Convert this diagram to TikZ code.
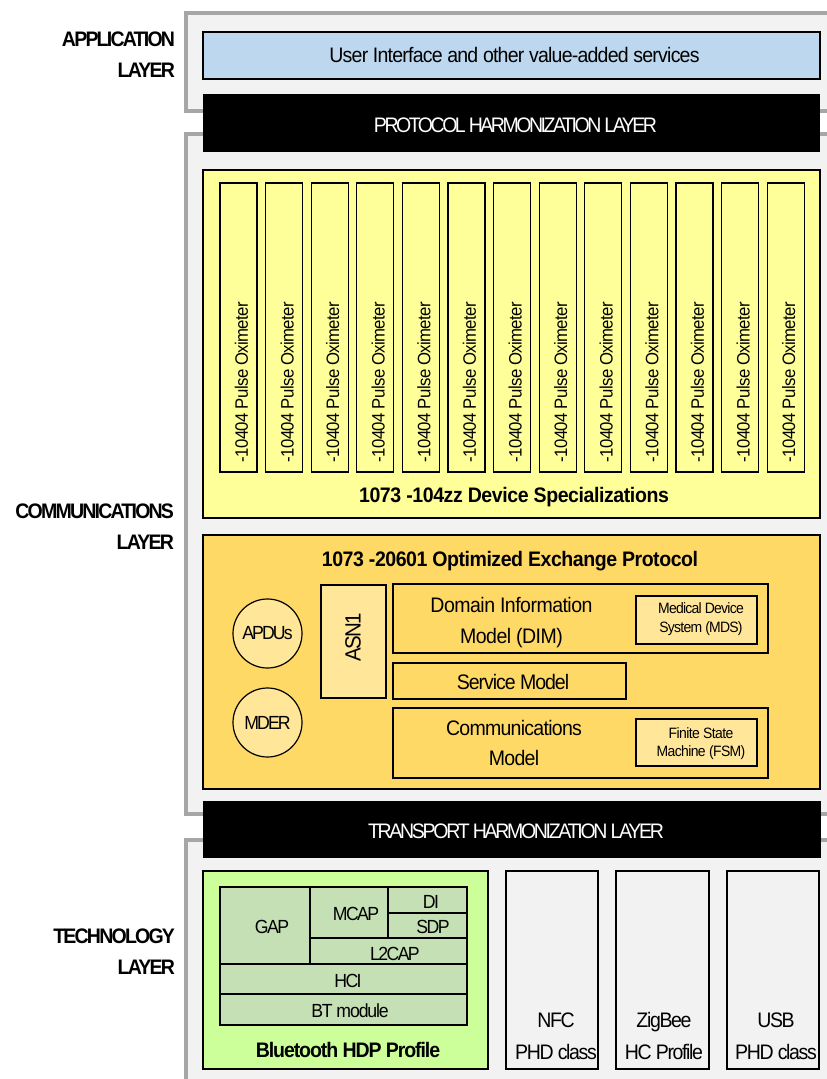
\documentclass[tikz,border=0pt]{standalone}
\usepackage{fontspec}
\setmainfont{Liberation Sans}
\usetikzlibrary{fit}
\newcommand\ft[4]{\fontsize{#1}{#2}\selectfont\addfontfeatures{FakeStretch=0.93,LetterSpace=#4}}
\definecolor{frameC}{HTML}{A6A6A6}
\definecolor{frameF}{HTML}{F2F2F2}
\definecolor{appC}{HTML}{BDD7EE}
\definecolor{devC}{HTML}{FFFF99}
\definecolor{oxpC}{HTML}{FFD966}
\definecolor{oxlC}{HTML}{FFE699}
\definecolor{btC}{HTML}{CCFF99}
\definecolor{btiC}{HTML}{C5E0B4}
\tikzset{
  frame/.style={draw=frameC, line width=3.5pt, fill=frameF, inner sep=0pt, outer sep=0pt},
  box/.style={draw=black, line width=1.2pt, inner sep=0pt, outer sep=0pt},
  bar/.style={fill=black, inner sep=0pt, outer sep=0pt},
  txt/.style={inner sep=0pt, outer sep=0pt},
  laylbl/.style={txt, align=right, anchor=east, font=\bfseries\ft{21}{31}{x}{-8.5}},
  btcell/.style={box, fill=btiC},
  btlbl/.style={txt, anchor=base, font=\ft{19}{23}{x}{-8.5}},
  phd/.style={box, fill=frameF},
  phdlbl/.style={txt, align=center, font=\ft{21}{32}{x}{-6.5}},
}
\begin{document}
\begin{tikzpicture}[x=1pt,y=-1pt]
\useasboundingbox (0,0) rectangle (827,1079);
\clip (0,0) rectangle (827,1079);

% layer frames
\node[frame, fit={(186,13) (900,111)}] (appF) {};
\node[frame, fit={(186,134) (900,814)}] (comF) {};
\node[frame, fit={(186,840) (900,1120)}] (tecF) {};

% layer labels
\node[laylbl] (appL) at (175,55) {APPLICATION\\LAYER};
\node[laylbl] (comL) at (174,526.5) {COMMUNICATIONS\\LAYER};
\node[laylbl] (tecL) at (175,951.5) {TECHNOLOGY\\LAYER};

% application
\node[box, fill=appC, fit={(203,32) (820,79)}] (uiB) {};
\node[txt, anchor=base, font=\ft{21}{25}{x}{-3.7}] (uiT) at (514.5,62) {User Interface and other value-added services};

% protocol harmonization
\node[bar, fit={(203,94) (820,152)}] (phB) {};
\node[txt, anchor=base, text=white, font=\ft{21}{25}{x}{-11.8}] (phT) at (515.5,132) {PROTOCOL HARMONIZATION LAYER};

% device specializations
\node[box, fill=devC, fit={(203,170) (820,518)}] (devB) {};
\foreach \i in {0,...,12} {
  \pgfmathsetmacro\xa{220+45.6*\i}
  \pgfmathsetmacro\xb{\xa+37}
  \node[box, fill=devC, fit={(\xa,183) (\xb,472)}] (s\i) {};
  \node[txt, rotate=90, anchor=west, font=\ft{18}{22}{x}{-3.5}] (st\i) at (\xa+21.5,462) {-10404 Pulse Oximeter};
}
\node[txt, anchor=base, font=\bfseries\ft{21}{25}{x}{-2}] (devT) at (514,502) {1073 -104zz Device Specializations};

% optimized exchange protocol
\node[box, fill=oxpC, fit={(203,535) (820,789)}] (oxpB) {};
\node[txt, anchor=base, font=\bfseries\ft{21}{25}{x}{-2.2}] (oxpT) at (510,566) {1073 -20601 Optimized Exchange Protocol};
\node[box, circle, fill=oxlC, minimum size=69pt, font=\ft{19}{23}{x}{-10}] (apdu) at (267.5,633.5) {APDUs};
\node[box, circle, fill=oxlC, minimum size=69pt, font=\ft{19}{23}{x}{-10}] (mder) at (267.5,722.5) {MDER};
\node[box, fill=oxlC, fit={(321,585) (386,698)}] (asnB) {};
\node[txt, rotate=90, font=\ft{22}{26}{x}{-7.3}] (asnT) at (353,637) {ASN1};
\node[box, fill=oxpC, fit={(393,584) (768,653)}] (dimB) {};
\node[txt, align=center, font=\ft{21}{31}{x}{-2.5}] (dimT) at (511.5,622.5) {Domain Information\\Model (DIM)};
\node[box, fill=oxlC, fit={(636,596) (757,644)}] (mdsB) {};
\node[txt, align=center, font=\ft{15}{19}{x}{-5}] (mdsT) at (701,619.5) {Medical Device\\System (MDS)};
\node[box, fill=oxpC, fit={(393,663) (626,699)}] (svcB) {};
\node[txt, anchor=base, font=\ft{21}{25}{x}{-5}] (svcT) at (513,689) {Service Model};
\node[box, fill=oxpC, fit={(393,708) (768,778)}] (cmB) {};
\node[txt, align=center, font=\ft{21}{30}{x}{-3.5}] (cmT) at (514,742.5) {Communications\\Model};
\node[box, fill=oxlC, fit={(636,719) (757,766)}] (fsmB) {};
\node[txt, align=center, font=\ft{15}{18}{x}{-4}] (fsmT) at (701,743.5) {Finite State\\Machine (FSM)};

% transport harmonization
\node[bar, fit={(203,801) (821,858)}] (thB) {};
\node[txt, anchor=base, text=white, font=\ft{21}{25}{x}{-11}] (thT) at (516,838) {TRANSPORT HARMONIZATION LAYER};

% bluetooth
\node[box, fill=btC, fit={(203,871) (488,1069)}] (btB) {};
\node[btcell, fit={(220,887) (310,964)}] (gapB) {};
\node[btcell, fit={(310,887) (388,938)}] (mcapB) {};
\node[btcell, fit={(388,887) (467,913)}] (diB) {};
\node[btcell, fit={(388,913) (467,938)}] (sdpB) {};
\node[btcell, fit={(310,938) (467,964)}] (l2capB) {};
\node[btcell, fit={(220,964) (467,994)}] (hciB) {};
\node[btcell, fit={(220,994) (467,1025)}] (btmB) {};
\node[btlbl] (gapT) at (272,933) {GAP};
\node[btlbl] (mcapT) at (356,920) {MCAP};
\node[btlbl] (diT) at (431,908) {DI};
\node[btlbl] (sdpT) at (433,933) {SDP};
\node[btlbl] (l2capT) at (395,960) {L2CAP};
\node[btlbl] (hciT) at (348,987) {HCI};
\node[btlbl, font=\ft{19}{23}{x}{-6}] (btmT) at (350,1017) {BT module};
\node[txt, anchor=base, font=\bfseries\ft{21}{25}{x}{-5.2}] (btT) at (348,1057) {Bluetooth HDP Profile};

% other technologies
\node[phd, fit={(506,871) (598,1069)}] (nfcB) {};
\node[phd, fit={(616,871) (709,1069)}] (zbB) {};
\node[phd, fit={(727,871) (819,1069)}] (usbB) {};
\node[phdlbl] (nfcT) at (556,1036) {NFC\\PHD class};
\node[phdlbl] (zbT) at (664,1036) {ZigBee\\HC Profile};
\node[phdlbl] (usbT) at (776,1036) {USB\\PHD class};
\end{tikzpicture}
\end{document}
